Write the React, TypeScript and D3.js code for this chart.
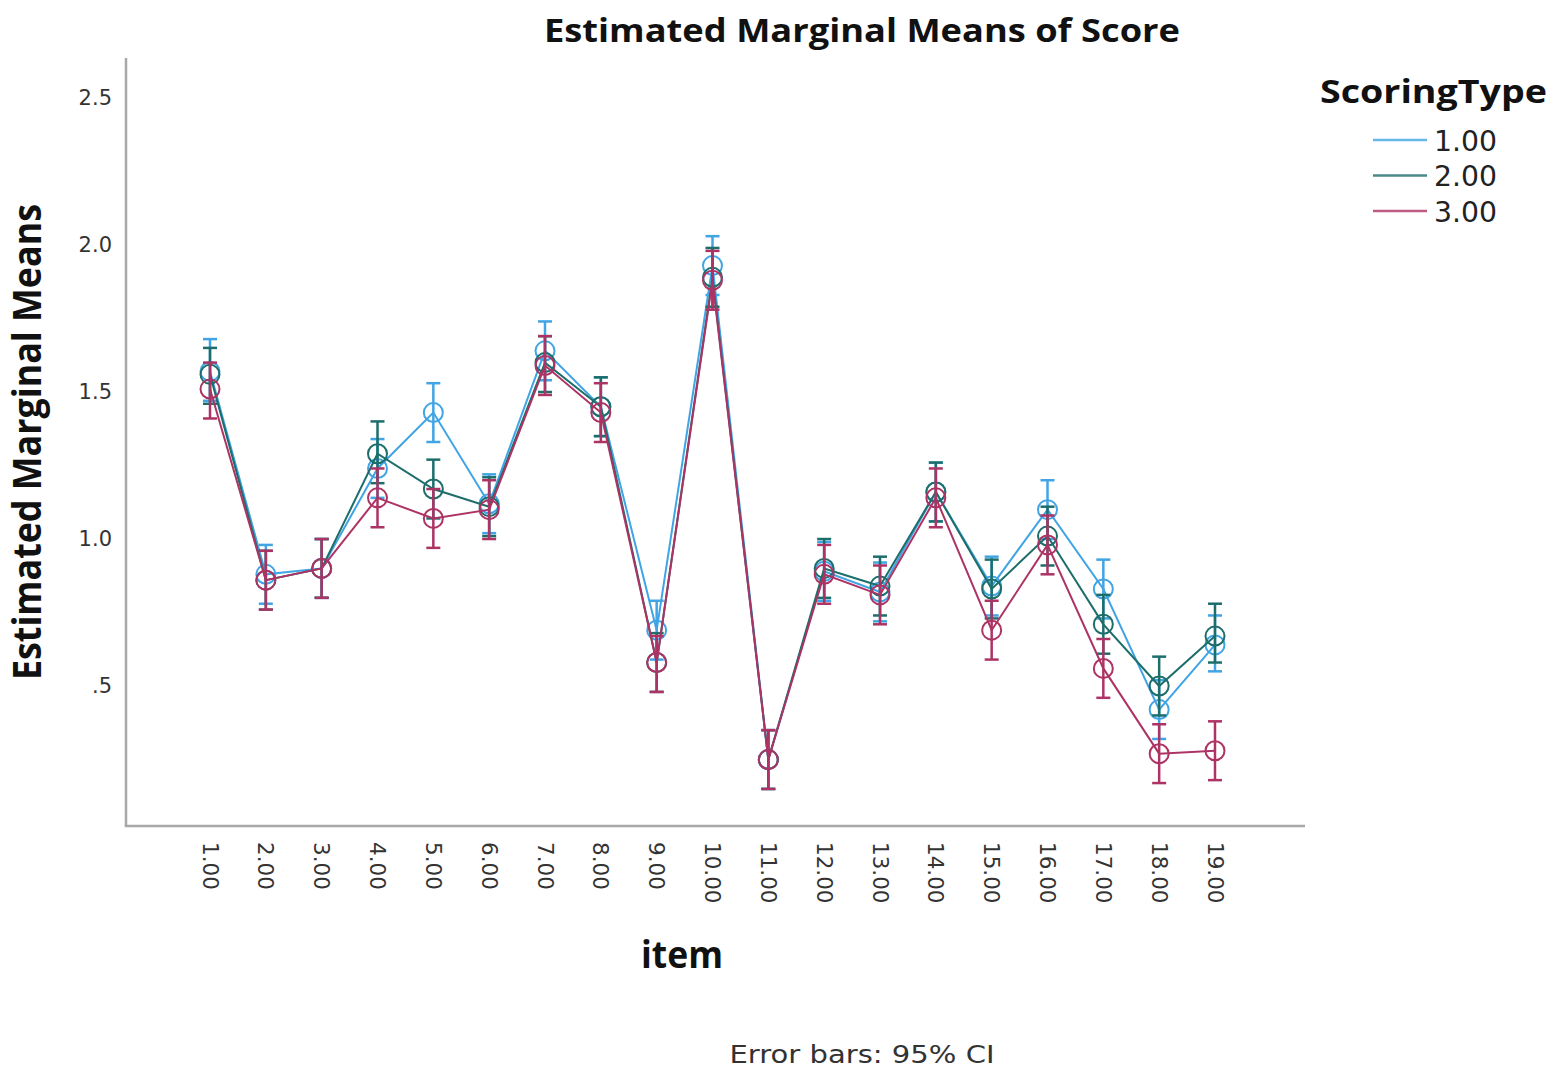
import React from "react";
import * as d3 from "d3";

const items = ["1.00","2.00","3.00","4.00","5.00","6.00","7.00","8.00","9.00","10.00","11.00","12.00","13.00","14.00","15.00","16.00","17.00","18.00","19.00"];
const itemValues = [1,2,3,4,5,6,7,8,9,10,11,12,13,14,15,16,17,18,19];
const seriesNames = ["1.00", "2.00", "3.00"];
const seriesColors = ["#41a4e4", "#1d6e6b", "#ad3364"];

const mean1 = [1.57,0.88,0.90,1.24,1.43,1.12,1.64,1.45,0.69,1.93,0.25,0.89,0.82,1.16,0.84,1.10,0.83,0.42,0.64];
const upper1 = [1.68,0.98,1.00,1.34,1.53,1.22,1.74,1.55,0.79,2.03,0.35,0.99,0.92,1.26,0.94,1.20,0.93,0.52,0.74];
const lower1 = [1.47,0.78,0.80,1.14,1.33,1.02,1.54,1.35,0.59,1.83,0.15,0.79,0.72,1.06,0.74,1.00,0.73,0.32,0.55];

const mean2 = [1.56,0.86,0.90,1.29,1.17,1.11,1.60,1.45,0.58,1.89,0.25,0.90,0.84,1.16,0.83,1.01,0.71,0.50,0.67];
const upper2 = [1.65,0.96,1.00,1.40,1.27,1.21,1.69,1.55,0.68,1.99,0.35,1.00,0.94,1.26,0.93,1.11,0.81,0.60,0.78];
const lower2 = [1.46,0.76,0.80,1.19,1.07,1.01,1.50,1.35,0.48,1.79,0.15,0.80,0.74,1.06,0.73,0.91,0.61,0.40,0.58];

const mean3 = [1.51,0.86,0.90,1.14,1.07,1.10,1.59,1.43,0.58,1.88,0.25,0.88,0.81,1.14,0.69,0.98,0.56,0.27,0.28];
const upper3 = [1.60,0.96,1.00,1.24,1.17,1.20,1.69,1.53,0.67,1.98,0.35,0.98,0.91,1.24,0.79,1.08,0.66,0.37,0.38];
const lower3 = [1.41,0.76,0.80,1.04,0.97,1.00,1.49,1.33,0.48,1.78,0.15,0.78,0.71,1.04,0.59,0.88,0.46,0.17,0.18];

const yTicks = [0.5, 1.0, 1.5, 2.0, 2.5];
const yTickLabels = [".5", "1.0", "1.5", "2.0", "2.5"];

const W = 1559;
const H = 1074;

export default function App() {
  const x = d3.scaleLinear().domain([1, 19]).range([210, 1215]);
  const y = d3.scaleLinear().domain([0.024, 2.636]).range([826, 58]);
  const axisLeft = 126;
  const axisRight = 1305;

  const series = [
    { name: seriesNames[0], color: seriesColors[0], mean: mean1, lo: lower1, hi: upper1 },
    { name: seriesNames[1], color: seriesColors[1], mean: mean2, lo: lower2, hi: upper2 },
    { name: seriesNames[2], color: seriesColors[2], mean: mean3, lo: lower3, hi: upper3 },
  ];

  const line = d3
    .line<number>()
    .x((_, i) => x(itemValues[i]))
    .y((d) => y(d));

  const capHalf = 7;
  const r = 9.5;
  const tickFont = "'DejaVu Sans', sans-serif";
  const boldFont = "'Open Sans', sans-serif";

  return (
    <svg
      width={W}
      height={H}
      style={{ position: "absolute", left: 0, top: 0, background: "#fff" }}
    >
      <rect x={0} y={0} width={W} height={H} fill="#fff" />
      <text
        x={862}
        y={42}
        textAnchor="middle"
        fontFamily={boldFont}
        fontWeight="bold"
        fontSize={32}
        textLength={636}
        lengthAdjust="spacingAndGlyphs"
        fill="#111"
      >
        Estimated Marginal Means of Score
      </text>

      <line x1={axisLeft} x2={axisLeft} y1={y(2.636)} y2={y(0.024)} stroke="#a8a8a8" strokeWidth={2.5} />
      <line x1={axisLeft - 1.25} x2={axisRight} y1={y(0.024)} y2={y(0.024)} stroke="#a8a8a8" strokeWidth={2.5} />

      {yTicks.map((t, i) => (
        <text
          key={t}
          x={112}
          y={y(t)}
          textAnchor="end"
          dominantBaseline="central"
          fontFamily={tickFont}
          fontSize={21}
          fill="#333"
        >
          {yTickLabels[i]}
        </text>
      ))}

      {items.map((lab, i) => (
        <text
          key={lab}
          transform={`translate(${x(itemValues[i])},${842}) rotate(90)`}
          textAnchor="start"
          dominantBaseline="central"
          fontFamily={tickFont}
          fontSize={21.5}
          fill="#333"
        >
          {lab}
        </text>
      ))}

      <text
        x={682}
        y={968}
        textAnchor="middle"
        fontFamily={boldFont}
        fontWeight="bold"
        fontSize={38}
        textLength={82}
        lengthAdjust="spacingAndGlyphs"
        fill="#111"
      >
        item
      </text>
      <text
        transform={`translate(${41},${442}) rotate(-90)`}
        textAnchor="middle"
        fontFamily={boldFont}
        fontWeight="bold"
        fontSize={39}
        textLength={476}
        lengthAdjust="spacingAndGlyphs"
        fill="#111"
      >
        Estimated Marginal Means
      </text>

      {series.map((s) => (
        <g key={s.name}>
          <path d={line(s.mean) || ""} fill="none" stroke={s.color} strokeWidth={2} />
          {s.mean.map((m, i) => {
            const cx = x(itemValues[i]);
            return (
              <g key={i}>
                <line x1={cx} x2={cx} y1={y(s.lo[i])} y2={y(s.hi[i])} stroke={s.color} strokeWidth={2.5} />
                <line x1={cx - capHalf} x2={cx + capHalf} y1={y(s.lo[i])} y2={y(s.lo[i])} stroke={s.color} strokeWidth={2.5} />
                <line x1={cx - capHalf} x2={cx + capHalf} y1={y(s.hi[i])} y2={y(s.hi[i])} stroke={s.color} strokeWidth={2.5} />
                <circle cx={cx} cy={y(m)} r={r} fill="none" stroke={s.color} strokeWidth={2} />
              </g>
            );
          })}
        </g>
      ))}

      <text
        x={1320}
        y={103}
        fontFamily={boldFont}
        fontWeight="bold"
        fontSize={32}
        textLength={227}
        lengthAdjust="spacingAndGlyphs"
        fill="#111"
      >
        ScoringType
      </text>
      {series.map((s, i) => (
        <g key={"leg" + s.name}>
          <line
            x1={1373}
            x2={1427}
            y1={140 + i * 35.5}
            y2={140 + i * 35.5}
            stroke={s.color}
            strokeWidth={2.5}
            opacity={0.8}
          />
          <text
            x={1434}
            y={141 + i * 35.5}
            dominantBaseline="central"
            fontFamily={tickFont}
            fontSize={28}
            textLength={63}
            lengthAdjust="spacingAndGlyphs"
            fill="#222"
          >
            {s.name}
          </text>
        </g>
      ))}

      <text
        x={862}
        y={1063}
        textAnchor="middle"
        fontFamily={tickFont}
        fontSize={25}
        textLength={265}
        lengthAdjust="spacingAndGlyphs"
        fill="#333"
      >
        Error bars: 95% CI
      </text>
    </svg>
  );
}
